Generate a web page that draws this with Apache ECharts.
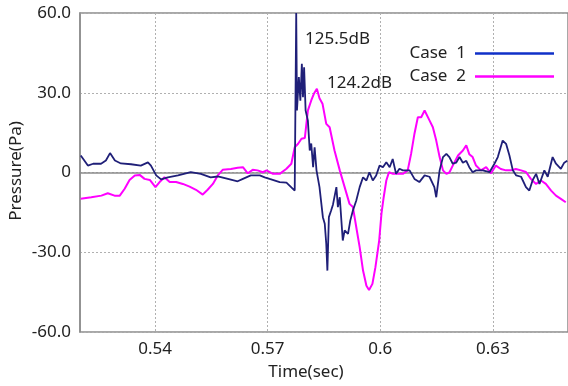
<!DOCTYPE html>
<html>
<head>
<meta charset="utf-8">
<script src="https://cdn.jsdelivr.net/npm/echarts@6/dist/echarts.min.js"></script>
<style>
html,body{margin:0;padding:0;background:#fff;}
#c{width:568px;height:386px;}
</style>
</head>
<body>
<div id="c"></div>
<script>
// Time (sec) and pressure (Pa)
var case1Time = [0.5202,0.5221,0.5235,0.5256,0.5269,0.5280,0.5293,0.5309,0.5336,0.5362,0.5381,0.5389,0.5403,0.5416,0.5434,0.5461,0.5495,0.5522,0.5548,0.5567,0.5594,0.5620,0.5634,0.5655,0.5679,0.5692,0.5705,0.5732,0.5750,0.5772,0.5776,0.5778,0.5783,0.5787,0.5791,0.5794,0.5797,0.5801,0.5807,0.5812,0.5816,0.5821,0.5825,0.5830,0.5838,0.5847,0.5852,0.5856,0.5859,0.5863,0.5869,0.5874,0.5883,0.5887,0.5892,0.5900,0.5905,0.5914,0.5920,0.5927,0.5936,0.5945,0.5954,0.5963,0.5971,0.5980,0.5989,0.5998,0.6007,0.6016,0.6025,0.6033,0.6042,0.6051,0.6060,0.6078,0.6091,0.6104,0.6118,0.6131,0.6144,0.6149,0.6158,0.6167,0.6176,0.6184,0.6193,0.6202,0.6211,0.6220,0.6229,0.6237,0.6246,0.6255,0.6273,0.6291,0.6304,0.6313,0.6326,0.6335,0.6344,0.6353,0.6362,0.6375,0.6388,0.6397,0.6406,0.6415,0.6424,0.6437,0.6446,0.6459,0.6468,0.6481,0.6490,0.6498];
var case1Value = [6.4,2.6,3.3,3.3,4.5,7.3,4.5,3.4,3.1,2.6,3.8,2.6,-1.1,-2.6,-1.8,-1.1,0.1,-0.5,-1.8,-1.5,-2.4,-3.3,-2.4,-1.1,-1.1,-1.8,-2.4,-3.6,-3.8,-6.8,60,23.3,35.9,27,40.9,28.3,39.6,23.3,19.6,8.3,10.9,2,9.5,0.8,-5.5,-16.8,-19.3,-26.8,-36.9,-16.8,-14.3,-12,-5.5,-13,-9.3,-25.6,-21.8,-23.1,-18.1,-14.3,-10.5,-5.5,-1.8,-3,0.1,-3,-1.1,2.6,2,3.9,2,5.1,-0.5,1.4,0.8,0.8,-2.4,-3.6,-1.1,-1.6,-5.5,-9.3,0.8,5.8,7,5.8,3.3,3.7,5.8,3.7,4.4,2,0.1,0.8,0.8,0.1,3.3,5.8,12,10.8,6.4,0.8,-1.1,-1.6,-5.5,-6.8,-2.8,-0.5,-4.3,0.8,-1.6,5.8,3.3,1.4,3.7,4.4];
var case2Time = [0.5202,0.5230,0.5257,0.5274,0.5292,0.5306,0.5319,0.5332,0.5346,0.5359,0.5372,0.5386,0.5401,0.5412,0.5425,0.5439,0.5456,0.5474,0.5492,0.5509,0.5527,0.5540,0.5554,0.5567,0.5580,0.5602,0.5620,0.5634,0.5647,0.5660,0.5673,0.5687,0.5697,0.5714,0.5732,0.5750,0.5763,0.5772,0.5781,0.5790,0.5799,0.5807,0.5816,0.5823,0.5831,0.5838,0.5846,0.5856,0.5865,0.5878,0.5892,0.5905,0.5918,0.5927,0.5936,0.5945,0.5954,0.5963,0.5970,0.5979,0.5987,0.5997,0.6003,0.6009,0.6016,0.6023,0.6034,0.6047,0.6060,0.6073,0.6082,0.6091,0.6100,0.6109,0.6118,0.6122,0.6131,0.6140,0.6149,0.6158,0.6167,0.6176,0.6184,0.6193,0.6207,0.6220,0.6229,0.6237,0.6246,0.6255,0.6268,0.6282,0.6295,0.6308,0.6321,0.6335,0.6348,0.6361,0.6375,0.6388,0.6401,0.6415,0.6428,0.6441,0.6455,0.6468,0.6481,0.6494];
var case2Value = [-9.9,-9.3,-8.7,-7.8,-8.7,-8.7,-6.1,-2.8,-1.1,-0.9,-2.4,-2.8,-5.5,-3.6,-1.8,-3.6,-3.6,-4.3,-5.3,-6.5,-8.3,-6.5,-4.3,-1.1,1,1.3,1.8,2,-0.3,1,0.8,0.1,0.8,-0.5,-0.5,1.4,3.3,9.5,10.8,12.7,13,23.3,27.1,29.6,31.5,27.9,25.9,18.3,17,8.3,0.8,-5.5,-11.8,-13,-20.6,-28.1,-36.9,-42.6,-44.2,-41.9,-35.6,-25.6,-15.6,-9.3,-3,0.1,-0.5,-0.5,-0.5,0.8,7,14.6,20.8,20.8,23.3,24,19.6,17,12,5.8,0.8,-0.5,0,2.6,6.4,8.3,10.2,6.9,5.8,2.6,0.8,2,-0.3,2.6,1.3,0.8,0.8,1.3,0.8,0.2,-2.4,-4.3,-3,-4.3,-6.8,-8.7,-9.9,-11.2];
var xTicks = [0.54, 0.57, 0.6, 0.63];
var xTickLabels = ['0.54', '0.57', '0.6', '0.63'];
var yTickLabels = {'60': '60.0', '30': '30.0', '0': '0', '-30': '-30.0', '-60': '-60.0'};
var seriesNames = ['Case  1', 'Case  2'];
var peakLabels = ['125.5dB', '124.2dB'];

function zip(a, b) { return a.map(function (t, i) { return [t, b[i]]; }); }

var FONT = 'Noto Sans';
var TXT = '#222';
var FS = 17;
var chart = echarts.init(document.getElementById('c'));
chart.setOption({
  animation: false,
  backgroundColor: '#fff',
  grid: { left: 80, right: -1, top: 13, bottom: 54, show: true, borderColor: '#8c8c8c', borderWidth: 1.5 },
  xAxis: {
    type: 'value', min: 0.52, max: 0.65,
    axisLine: { show: true, lineStyle: { color: '#8c8c8c', width: 1.5 } },
    axisTick: { show: false, customValues: xTicks },
    axisLabel: {
      customValues: xTicks, margin: 9, fontSize: FS, fontFamily: FONT, color: TXT,
      formatter: function (v) { var i = xTicks.indexOf(+v.toFixed(2)); return i >= 0 ? xTickLabels[i] : ''; }
    },
    splitLine: { show: true, lineStyle: { color: '#b0b0b0', type: [2, 2], width: 1 } }
  },
  yAxis: {
    type: 'value', min: -60, max: 60, interval: 30,
    axisLine: { show: true, lineStyle: { color: '#8c8c8c', width: 1.5 } },
    axisTick: { show: false },
    axisLabel: {
      margin: 9, fontSize: FS, fontFamily: FONT, color: TXT,
      formatter: function (v) { return yTickLabels[String(v)]; }
    },
    splitLine: { show: true, lineStyle: { color: '#b0b0b0', type: [2, 2], width: 1 } }
  },
  legend: {
    orient: 'vertical', right: 9, top: 40, align: 'right',
    itemWidth: 79, itemHeight: 2.5, itemGap: 6, icon: 'rect',
    textStyle: { fontSize: FS, fontFamily: FONT, color: TXT, padding: [0, 4, 0, 0] },
    data: [
      { name: seriesNames[0], itemStyle: { color: '#1030c8' } },
      { name: seriesNames[1], itemStyle: { color: '#ff00ff' } }
    ]
  },
  series: [
    { name: seriesNames[0], type: 'line', data: zip(case1Time, case1Value), showSymbol: false, symbol: 'none',
      lineStyle: { color: '#1f1f78', width: 1.8 }, itemStyle: { color: '#1f1f78' }, z: 3 },
    { name: seriesNames[1], type: 'line', data: zip(case2Time, case2Value), showSymbol: false, symbol: 'none',
      lineStyle: { color: '#ff00ff', width: 2 }, itemStyle: { color: '#ff00ff' }, z: 2 }
  ],
  graphic: [
    { type: 'text', left: 305, top: 31, style: { text: peakLabels[0], font: FS + 'px "Noto Sans"', fill: TXT } },
    { type: 'text', left: 327, top: 75, style: { text: peakLabels[1], font: FS + 'px "Noto Sans"', fill: TXT } },
    { type: 'text', x: 306, y: 372, style: { text: 'Time(sec)', font: FS + 'px "Noto Sans"', fill: TXT, align: 'center', verticalAlign: 'middle' } },
    { type: 'text', x: 16, y: 171, rotation: Math.PI / 2, style: { text: 'Pressure(Pa)', font: FS + 'px "Noto Sans"', fill: TXT, align: 'center', verticalAlign: 'middle' } }
  ]
});
</script>
</body>
</html>
